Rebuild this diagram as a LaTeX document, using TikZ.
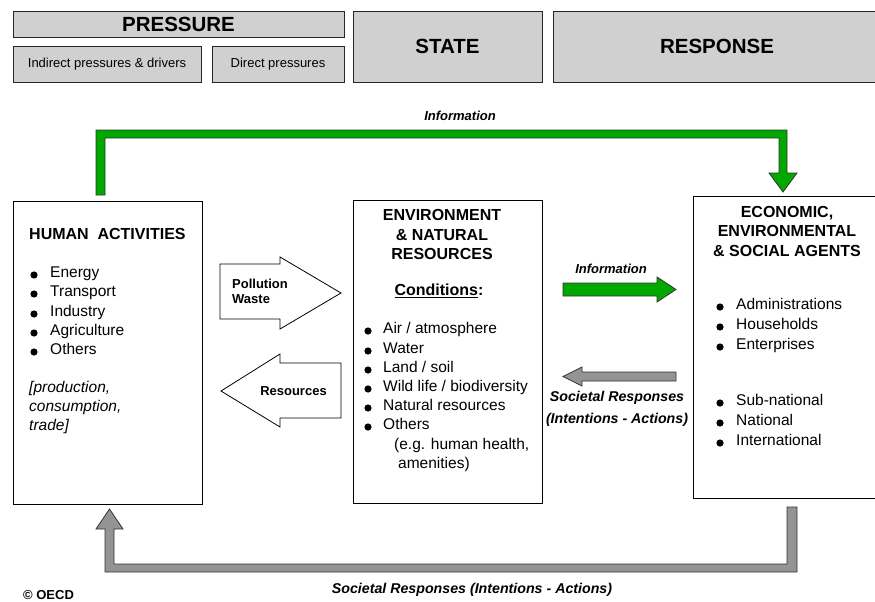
\documentclass[tikz,border=0pt]{standalone}
\usepackage{fontspec}
\setmainfont{Liberation Sans}
\definecolor{hdrgrey}{RGB}{208,208,208}
\definecolor{infogreen}{RGB}{0,168,0}
\definecolor{respgrey}{RGB}{148,148,148}
\begin{document}
\begin{tikzpicture}[x=1pt,y=-1pt,
 hdr/.style={draw=black!85, fill=hdrgrey, line width=0.9pt, inner sep=0pt},
 panel/.style={draw=black, fill=white, line width=0.9pt, inner sep=0pt},
 bigt/.style={font=\bfseries\fontsize{20.5}{24}\selectfont},
 subt/.style={font=\fontsize{13}{15}\selectfont},
 ttl/.style={font=\bfseries\fontsize{16}{19.5}\selectfont, align=center, inner sep=0pt},
 itm/.style={anchor=mid west, inner sep=0pt, font=\fontsize{15.5}{19}\selectfont},
 itl/.style={anchor=mid west, inner sep=0pt, font=\itshape\fontsize{15.5}{19}\selectfont},
 smallb/.style={inner sep=0pt, font=\bfseries\fontsize{13}{15}\selectfont},
 lbl/.style={inner sep=0pt, font=\bfseries\itshape\fontsize{13}{15}\selectfont},
 lblbig/.style={inner sep=0pt, align=center, font=\bfseries\itshape\fontsize{14.2}{21.5}\selectfont},
 blockg/.style={draw=black!80, fill=infogreen, line width=0.8pt},
 blockr/.style={draw=black!80, fill=respgrey, line width=0.8pt},
 blockw/.style={draw=black, fill=white, line width=0.8pt},
 bul/.style={fill=black}
]
\useasboundingbox (0,0) rectangle (875,602);

% ---------- header ----------
\node[hdr, bigt, minimum width=331pt, minimum height=26pt] (pressure) at (178.5,24) {PRESSURE};
\node[hdr, subt, minimum width=188pt, minimum height=36pt] (indirect) at (107,64) {Indirect pressures \& drivers};
\node[hdr, subt, minimum width=132pt, minimum height=36pt] (direct) at (278,64) {Direct pressures};
\node[hdr, bigt, minimum width=189pt, minimum height=71pt] (state) at (447.5,46.5) {STATE};
\node[hdr, bigt, minimum width=328pt, minimum height=71pt] (response) at (717,46.5) {RESPONSE};

% ---------- main panels ----------
\node[panel, minimum width=189pt, minimum height=303pt] (human) at (107.5,352.5) {};
\node[panel, minimum width=189pt, minimum height=303pt] (env) at (447.5,351.5) {};
\node[panel, minimum width=188pt, minimum height=302pt] (agents) at (787,347) {};

% ---------- top information arrow ----------
\draw[blockg] (96,195) -- (96,130) -- (787,130) -- (787,173) -- (797,173) -- (783,192)
  -- (769,173) -- (779,173) -- (779,138) -- (105,138) -- (105,195) -- cycle;
\node[lbl] (infotop) at (460,116) {Information};

% ---------- bottom societal response arrow ----------
\draw[blockr] (787,507) -- (797,507) -- (797,572) -- (105,572) -- (105,529) -- (96,529)
  -- (109.5,509) -- (123,529) -- (114,529) -- (114,564) -- (787,564) -- cycle;
\node[lblbig] (srbottom) at (472,590) {Societal Responses (Intentions - Actions)};
\node[anchor=base west, inner sep=0pt, font=\bfseries\fontsize{13}{15}\selectfont] (oecd) at (23,599.5) {© OECD};

% ---------- human activities ----------
\node[ttl, anchor=mid west] (humanT) at (29,237) {HUMAN\ \ ACTIVITIES};
\foreach \yy in {275,294,314,333,352} {\fill[bul] (34,\yy) circle[radius=3.6pt];}
\node[itm] (h1) at (50,275) {Energy};
\node[itm] (h2) at (50,294) {Transport};
\node[itm] (h3) at (50,314) {Industry};
\node[itm] (h4) at (50,333) {Agriculture};
\node[itm] (h5) at (50,352) {Others};
\node[itl] (hp1) at (29,390) {[production,};
\node[itl] (hp2) at (29,409) {consumption,};
\node[itl] (hp3) at (29,428) {trade]};

% ---------- pollution / resources arrows ----------
\draw[blockw] (220,264) -- (280,264) -- (280,257) -- (341,293) -- (280,329) -- (280,319) -- (220,319) -- cycle;
\node[smallb, anchor=mid west] (poll) at (232,286) {Pollution};
\node[smallb, anchor=mid west] (waste) at (232,301) {Waste};
\draw[blockw] (341,363) -- (280,363) -- (280,354) -- (221,391) -- (280,427) -- (280,418) -- (341,418) -- cycle;
\node[smallb] (res) at (293.5,391) {Resources};

% ---------- environment ----------
\node[ttl] (envT) at (442,234.5) {ENVIRONMENT\\\& NATURAL\\RESOURCES};
\node[ttl] (cond) at (439,291) {\underline{Conditions}:};
\foreach \yy in {331,351,370,389,408,427} {\fill[bul] (368,\yy) circle[radius=3.6pt];}
\node[itm] (e1) at (383,331) {Air / atmosphere};
\node[itm] (e2) at (383,351) {Water};
\node[itm] (e3) at (383,370) {Land / soil};
\node[itm] (e4) at (383,389) {Wild life / biodiversity};
\node[itm] (e5) at (383,408) {Natural resources};
\node[itm] (e6) at (383,427) {Others};
\node[itm] (e7) at (394,447) {(e.g. human health,};
\node[itm] (e8) at (398,466) {amenities)};

% ---------- information / societal middle arrows ----------
\draw[blockg] (563,283) -- (657,283) -- (657,277) -- (676,289.5) -- (657,302) -- (657,296) -- (563,296) -- cycle;
\node[lbl] (infomid) at (611,269) {Information};
\draw[blockr] (676,372) -- (582,372) -- (582,367) -- (563,376.5) -- (582,386) -- (582,381) -- (676,381) -- cycle;
\node[lblbig] (srmid) at (617,409) {Societal Responses\\(Intentions - Actions)};

% ---------- agents ----------
\node[ttl] (agentsT) at (787,231) {ECONOMIC,\\ENVIRONMENTAL\\\& SOCIAL AGENTS};
\foreach \yy in {307,327,347,403,423,443} {\fill[bul] (720,\yy) circle[radius=3.6pt];}
\node[itm] (a1) at (736,307) {Administrations};
\node[itm] (a2) at (736,327) {Households};
\node[itm] (a3) at (736,347) {Enterprises};
\node[itm] (a4) at (736,403) {Sub-national};
\node[itm] (a5) at (736,423) {National};
\node[itm] (a6) at (736,443) {International};
\end{tikzpicture}
\end{document}
